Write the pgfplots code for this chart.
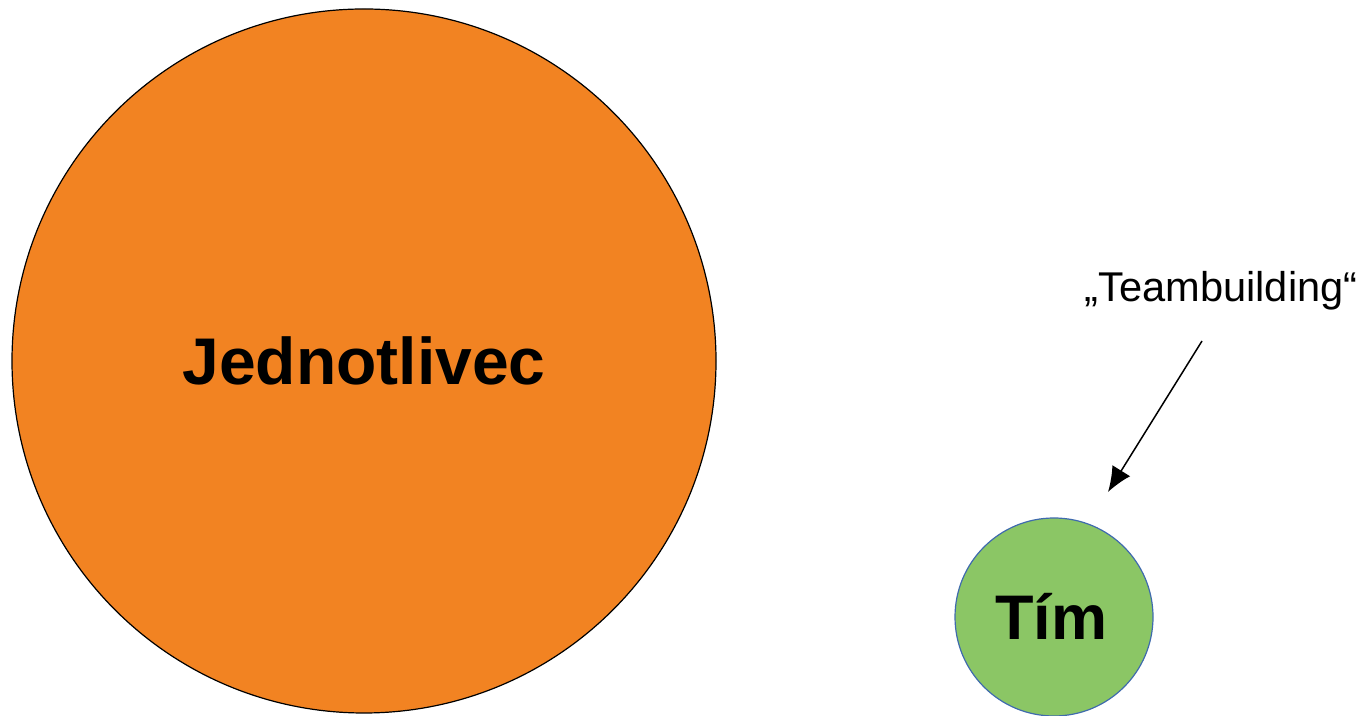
\documentclass[border=0pt]{standalone}
\usepackage{pgfplots}
\pgfplotsset{compat=1.18}
\usepackage{fontspec}
\setmainfont{Liberation Sans}
\usetikzlibrary{arrows.meta}
\definecolor{orng}{HTML}{F28322}
\definecolor{grn}{HTML}{8BC665}
\definecolor{bord}{HTML}{3F6AAE}
\begin{document}
\begin{tikzpicture}
\begin{axis}[scale only axis, width=685pt, height=358pt,
  xmin=0, xmax=1370, ymin=0, ymax=716, y dir=reverse,
  hide axis, clip=false, set layers]
\addplot[draw=none] coordinates {(0,0) (1370,716)};
% circles (radius in pt = pixels/2)
\addplot[only marks, mark=*, mark size=176pt,
  mark options={fill=orng, draw=black, line width=0.6pt}] coordinates {(364,361)};
\addplot[only marks, mark=*, mark size=49.5pt,
  mark options={fill=grn, draw=bord, line width=0.6pt}] coordinates {(1054,617)};
% arrow
\addplot[black, line width=0.75pt, -{Latex[length=12.5pt,width=10.5pt]}]
  coordinates {(1202,341) (1108,492)};
\begin{pgfonlayer}{axis foreground}
\node[anchor=base, font=\fontsize{33}{36}\selectfont\bfseries] at (axis cs:364,385) {Jednotlivec};
\node[anchor=base, font=\fontsize{31.5}{34}\selectfont\bfseries] at (axis cs:1051,640) {Tím};
\node[anchor=base, font=\fontsize{20.8}{23}\selectfont] at (axis cs:1221,302) {„Teambuilding“};
\end{pgfonlayer}
\end{axis}
\end{tikzpicture}
\end{document}
